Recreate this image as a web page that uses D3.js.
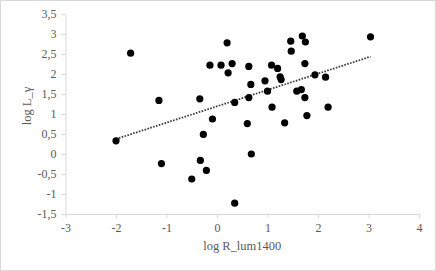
<!DOCTYPE html>
<html>
<head>
<meta charset="utf-8">
<script src="https://cdn.jsdelivr.net/npm/d3@7"></script>
<style>
  body { margin: 0; background: #fff; }
  svg text { font-family: "Liberation Serif", "Times New Roman", serif; fill: #595959; }
</style>
</head>
<body>
<div id="chart"></div>
<script>
// log R_lum1400 values
var xValues = [-2.0, -1.71, -1.15, -1.10, -0.50, -0.34, -0.33, -0.27, -0.21, -0.14, -0.09,
  0.08, 0.20, 0.22, 0.30, 0.35, 0.35, 0.60, 0.63, 0.63, 0.67, 0.68,
  0.95, 1.00, 1.08, 1.09, 1.20, 1.25, 1.27, 1.34,
  1.46, 1.47, 1.58, 1.67, 1.69, 1.74, 1.74, 1.75, 1.78,
  1.94, 2.15, 2.20, 3.04];
// log L_gamma values
var yValues = [0.33, 2.52, 1.34, -0.24, -0.625, 1.38, -0.16, 0.49, -0.41, 2.22, 0.875,
  2.22, 2.78, 2.03, 2.26, 1.29, -1.23, 0.76, 2.19, 1.41, 1.74, 0.0,
  1.83, 1.57, 2.22, 1.17, 2.14, 1.93, 1.86, 0.78,
  2.82, 2.57, 1.57, 1.61, 2.95, 2.26, 1.41, 2.80, 0.96,
  1.98, 1.92, 1.17, 2.93];
var xTicks = [-3, -2, -1, 0, 1, 2, 3, 4];
var yTicks = [-1.5, -1, -0.5, 0, 0.5, 1, 1.5, 2, 2.5, 3, 3.5];

var width = 436;
var height = 271;
var margin = { top: 14, right: 17, bottom: 57, left: 65.5 };

var svg = d3.select("#chart").append("svg")
  .attr("width", width)
  .attr("height", height);

svg.append("rect")
  .attr("x", 0.5).attr("y", 0.5)
  .attr("width", width - 1).attr("height", height - 1)
  .attr("fill", "#fff")
  .attr("stroke", "#d9d9d9");

var x = d3.scaleLinear().domain([-3, 4]).range([margin.left, width - margin.right]);
var y = d3.scaleLinear().domain([-1.5, 3.5]).range([height - margin.bottom, margin.top]);

var fmt = function (d) { return String(d).replace(".", ","); };

var xAxis = svg.append("g")
  .attr("transform", "translate(0," + y(-1.5) + ")")
  .call(d3.axisBottom(x).tickValues(xTicks).tickFormat(fmt).tickSize(4).tickSizeOuter(0));

var yAxis = svg.append("g")
  .attr("transform", "translate(" + x(-3) + ",0)")
  .call(d3.axisLeft(y).tickValues(yTicks).tickFormat(fmt).tickSize(4).tickSizeOuter(0));

[xAxis, yAxis].forEach(function (g) {
  g.select(".domain").attr("stroke", "#d9d9d9");
  g.selectAll(".tick line").attr("stroke", "#d9d9d9");
  g.selectAll(".tick text")
    .attr("fill", "#595959")
    .style("font-family", "'Liberation Serif', serif")
    .style("font-size", "12px");
});
xAxis.selectAll(".tick text").attr("dy", "0.9em");
yAxis.selectAll(".tick text").attr("x", -9);

// linear trend line (least squares)
var pts = xValues.map(function (d, i) { return [d, yValues[i]]; });
var mx = d3.mean(xValues), my = d3.mean(yValues);
var slope = d3.sum(pts, function (p) { return (p[0] - mx) * (p[1] - my); }) /
  d3.sum(pts, function (p) { return (p[0] - mx) * (p[0] - mx); });
var icpt = my - slope * mx;
var ext = d3.extent(xValues);

svg.append("line")
  .attr("x1", x(ext[0])).attr("y1", y(icpt + slope * ext[0]))
  .attr("x2", x(ext[1])).attr("y2", y(icpt + slope * ext[1]))
  .attr("stroke", "#3a3a3a")
  .attr("stroke-width", 1.8)
  .attr("stroke-dasharray", "1.6,1.4");

svg.selectAll(".dot")
  .data(pts)
  .enter()
  .append("circle")
  .attr("class", "dot")
  .attr("cx", function (d) { return x(d[0]); })
  .attr("cy", function (d) { return y(d[1]); })
  .attr("r", 3.6)
  .attr("fill", "#000");

svg.append("text")
  .attr("x", (x(-3) + x(4)) / 2)
  .attr("y", 250)
  .attr("text-anchor", "middle")
  .style("font-size", "12.5px")
  .text("log R_lum1400");

svg.append("text")
  .attr("transform", "translate(31,106) rotate(-90)")
  .attr("text-anchor", "middle")
  .style("font-size", "12.5px")
  .text("log L_γ");
</script>
</body>
</html>
